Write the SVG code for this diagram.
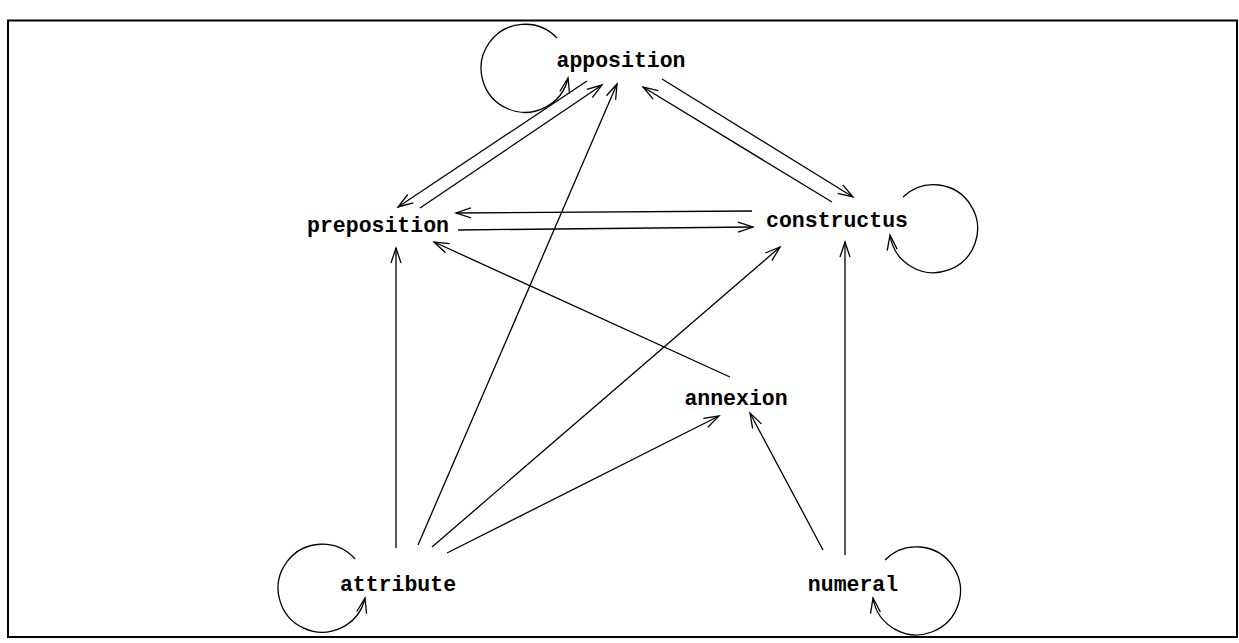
<svg xmlns="http://www.w3.org/2000/svg" width="1239" height="643" viewBox="0 0 1239 643">
<defs>
<marker id="ah" markerUnits="userSpaceOnUse" markerWidth="20" markerHeight="14" viewBox="-17 -7 20 14" refX="0" refY="0" orient="auto">
<path d="M-15,-5 L0,0 L-15,5" fill="none" stroke="#000" stroke-width="1.3"/>
</marker>
<style>
.e{fill:none;stroke:#000;stroke-width:1.3}
.a{marker-end:url(#ah)}
.t{font-family:"Liberation Mono","DejaVu Sans Mono",monospace;font-weight:bold;font-size:21.5px;fill:#000;text-anchor:middle}
</style>
</defs>
<rect x="0" y="0" width="1239" height="643" fill="#fff"/>
<rect x="8" y="20.5" width="1229" height="616.5" fill="none" stroke="#000" stroke-width="2"/>
<g id="connectors">
<path class="e a" d="M557,38 A44,44 0 1 0 568,78"/>
<path class="e a" d="M903,197 A44,44 0 1 1 890,235"/>
<path class="e a" d="M355,559 A44,44 0 1 0 365,598"/>
<path class="e a" d="M885,560 A44,44 0 1 1 873,598"/>
<line class="e a" x1="587" y1="81" x2="398" y2="207"/>
<line class="e a" x1="420" y1="208" x2="602" y2="85"/>
<line class="e a" x1="418" y1="545" x2="617" y2="84"/>
<line class="e a" x1="832" y1="202" x2="643" y2="87"/>
<line class="e a" x1="662" y1="79" x2="853" y2="197"/>
<line class="e a" x1="752" y1="211" x2="456" y2="213"/>
<line class="e a" x1="458" y1="230" x2="753" y2="227"/>
<line class="e a" x1="730" y1="377" x2="434" y2="242"/>
<line class="e a" x1="396" y1="548" x2="396" y2="248"/>
<line class="e a" x1="432" y1="547" x2="780" y2="247"/>
<line class="e a" x1="447" y1="553" x2="719" y2="416"/>
<line class="e a" x1="823" y1="550" x2="750" y2="413"/>
<line class="e a" x1="845" y1="555" x2="845" y2="242"/>
</g>
<g id="apposition"><text class="t" x="621" y="67">apposition</text></g>
<g id="preposition"><text class="t" x="378" y="232">preposition</text></g>
<g id="constructus"><text class="t" x="837" y="227">constructus</text></g>
<g id="annexion"><text class="t" x="736" y="405">annexion</text></g>
<g id="attribute"><text class="t" x="398" y="591">attribute</text></g>
<g id="numeral"><text class="t" x="853" y="591">numeral</text></g>
</svg>
